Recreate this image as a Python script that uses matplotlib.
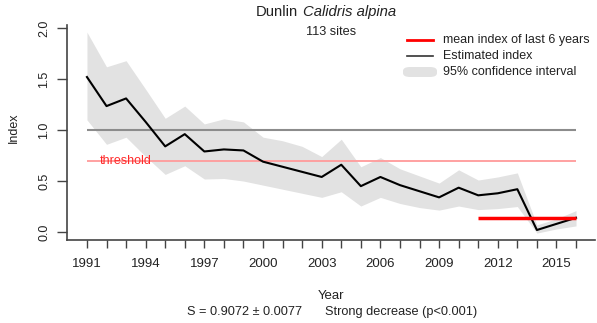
import numpy as np
import matplotlib.pyplot as plt
from matplotlib.patches import FancyBboxPatch

plt.rcParams['font.family'] = ['Liberation Sans', 'DejaVu Sans']

years = np.arange(1991, 2017)
index = [1.52, 1.235, 1.31, 1.08, 0.84, 0.96, 0.79, 0.81, 0.80, 0.69,
         0.64, 0.59, 0.54, 0.66, 0.45, 0.54, 0.46, 0.40, 0.34, 0.435,
         0.36, 0.38, 0.42, 0.02, 0.08, 0.14]
ci_upper = [1.96, 1.62, 1.68, 1.40, 1.115, 1.235, 1.06, 1.11, 1.08, 0.93,
            0.895, 0.84, 0.74, 0.91, 0.64, 0.73, 0.62, 0.55, 0.48, 0.61,
            0.51, 0.54, 0.58, 0.07, 0.13, 0.21]
ci_lower = [1.10, 0.86, 0.93, 0.74, 0.565, 0.65, 0.52, 0.525, 0.50, 0.46,
            0.42, 0.38, 0.34, 0.395, 0.255, 0.34, 0.28, 0.24, 0.215, 0.255,
            0.22, 0.23, 0.25, -0.01, 0.03, 0.06]
threshold = 0.70
baseline = 1.0
mean_last6 = 0.14
mean_years = [2011, 2016]
xtick_years = np.arange(1991, 2017, 3)
ytick_vals = [0.0, 0.5, 1.0, 1.5, 2.0]

W, H = 597, 323
fig = plt.figure(figsize=(W / 100, H / 100), dpi=100)
ax = fig.add_axes([67 / W, 1 - 240 / H, 528 / W, 215 / H])

ax.fill_between(years, ci_lower, ci_upper, color='#e2e2e2', lw=0, zorder=1)
ax.hlines(baseline, years[0], years[-1], color='#8c8c8c', lw=1.5, zorder=2)
ax.hlines(threshold, years[0], years[-1], color='#ff9a9a', lw=1.3, zorder=2)
ax.text(1991.65, threshold, 'threshold', color='#ff2a2a', fontsize=9,
        va='center', ha='left', zorder=3)
ax.plot(years, index, color='black', lw=1.5, zorder=4)
ax.hlines(mean_last6, mean_years[0], mean_years[1], color='#ff0000', lw=2.5, zorder=5)

ax.set_xlim(1989.98, 2016.97)
ax.set_ylim(-0.078, 2.03)
for s in ['top', 'right']:
    ax.spines[s].set_visible(False)
for s in ['left', 'bottom']:
    ax.spines[s].set_color('#444444')
    ax.spines[s].set_linewidth(1.2)

ax.set_xticks(years, minor=True)
ax.set_xticks(xtick_years)
ax.set_xticklabels([str(y) for y in xtick_years], fontsize=9.5, color='#222222')
ax.tick_params(axis='x', which='both', length=6, width=1, color='#444444', pad=7)
ax.set_yticks(ytick_vals)
ax.set_yticklabels([f'{v:.1f}' for v in ytick_vals], fontsize=9,
                   rotation=90, va='center', color='#222222')
ax.tick_params(axis='y', length=7, width=1, color='#444444', pad=5)

fig.text(14 / W, 1 - 128 / H, 'Index', rotation=90, fontsize=9,
         ha='center', va='center', color='#222222')
fig.text(331 / W, 1 - 296 / H, 'Year', fontsize=9.5, ha='center', va='center',
         color='#222222')
fig.text(302 / W, 1 - 312 / H, 'S = 0.9072 \u00b1 0.0077', fontsize=9.2,
         ha='right', va='center', color='#222222')
fig.text(325 / W, 1 - 312 / H, 'Strong decrease (p<0.001)', fontsize=9.2,
         ha='left', va='center', color='#222222')

fig.text(298 / W, 1 - 12 / H, 'Dunlin', fontsize=10.7, ha='right', va='center',
         color='#222222')
fig.text(303 / W, 1 - 12 / H, 'Calidris alpina', fontsize=10.7, style='italic',
         ha='left', va='center', color='#222222')
fig.text(331 / W, 1 - 32 / H, '113 sites', fontsize=9.2, ha='center',
         va='center', color='#222222')

# legend drawn by hand in figure pixels
leg_y = [40, 56, 72]
fig.add_artist(plt.Line2D([407 / W, 433 / W], [1 - leg_y[0] / H] * 2,
                          color='#ff0000', lw=2.0))
fig.add_artist(plt.Line2D([407 / W, 433 / W], [1 - leg_y[1] / H] * 2,
                          color='#333333', lw=1.2))
fig.add_artist(FancyBboxPatch((403 / W, 1 - 77 / H), 34 / W, 10 / H,
                              boxstyle='round,pad=0,rounding_size=0.012',
                              transform=fig.transFigure, color='#e2e2e2', lw=0))
labels = ['mean index of last 6 years', 'Estimated index', '95% confidence interval']
for yy, lab in zip(leg_y, labels):
    fig.text(443 / W, 1 - yy / H, lab, fontsize=9, ha='left', va='center',
             color='#222222')

fig.savefig('out.png', dpi=100)
